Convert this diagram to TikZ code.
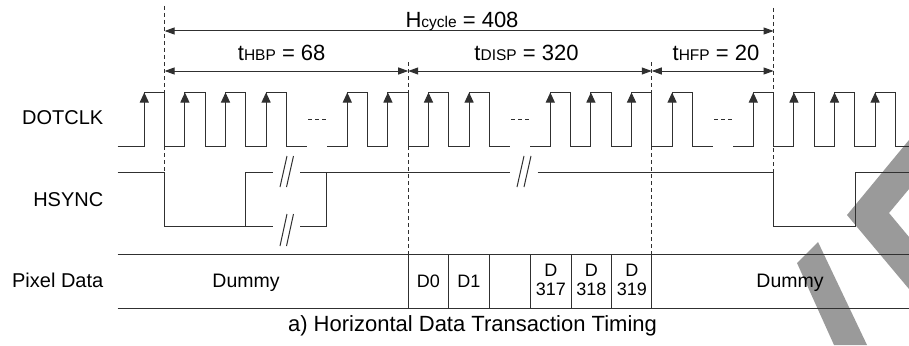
\documentclass[tikz,border=0pt]{standalone}
\usepackage{fontspec}
\setmainfont{Liberation Sans}
\usetikzlibrary{arrows.meta}
\definecolor{ln}{HTML}{303030}
\definecolor{wm}{HTML}{9A9A9A}
\begin{document}
\begin{tikzpicture}[x=1pt,y=-1pt,
  sig/.style={draw=ln,line width=1pt},
  vguide/.style={draw=ln,line width=0.9pt,dash pattern=on 4pt off 3pt},
  gapdash/.style={draw=ln,line width=1pt,dash pattern=on 4pt off 3pt},
  dimarrow/.style={draw=ln,line width=1pt,{Triangle[length=10pt,width=7pt]}-{Triangle[length=10pt,width=7pt]}},
  riseedge/.style={draw=ln,line width=1pt,-{Triangle[length=10pt,width=9pt]}},
  breakmark/.style={draw=ln,line width=1pt},
  lbl/.style={anchor=base east,inner sep=0pt,font=\fontsize{20}{24}\selectfont},
  celltxt/.style={anchor=base,inner sep=0pt,font=\fontsize{18}{21}\selectfont},
  dummytxt/.style={anchor=base,inner sep=0pt,font=\fontsize{19.5}{23}\selectfont},
  toplbl/.style={anchor=base,inner sep=0pt,font=\fontsize{22}{26}\selectfont},
]
\newcommand{\subtxt}[1]{{\fontsize{15.5}{18}\selectfont #1}}
\useasboundingbox (0,0) rectangle (909,345);
\fill[white] (0,0) rectangle (909,345);

% watermark shapes
\fill[wm] (909,140) -- (847,215) -- (909,289) -- (909,237) -- (889,213) -- (909,189) -- cycle;
\fill[wm] (797,263) -- (818,242) -- (867,345) -- (834,345) -- cycle;

% guide coordinates
\coordinate (v1) at (164.6,0);
\coordinate (v2) at (408.2,0);
\coordinate (v3) at (651.8,0);
\coordinate (v4) at (773.6,0);

% dashed guides
\draw[vguide] (v1|-0,6) -- (v1|-0,172);
\draw[vguide] (v2|-0,62) -- (v2|-0,254);
\draw[vguide] (v3|-0,62) -- (v3|-0,254);
\draw[vguide] (v4|-0,8) -- (v4|-0,172);

% dimension arrows
\draw[dimarrow] (v1|-0,31) -- (v4|-0,31);
\draw[dimarrow] (v1|-0,71) -- (v2|-0,71);
\draw[dimarrow] (v2|-0,71) -- (v3|-0,71);
\draw[dimarrow] (v3|-0,71) -- (v4|-0,71);

\node[toplbl] (hcyc) at (462,27.7) {H\subtxt{cycle} = 408};
\node[toplbl] (thbp) at (281.7,60.5) {t\subtxt{HBP} = 68};
\node[toplbl] (tdisp) at (526.5,60.5) {t\subtxt{DISP} = 320};
\node[toplbl] (thfp) at (716,60.5) {t\subtxt{HFP} = 20};

% DOTCLK
\node[lbl] (clklbl) at (103.5,124) {DOTCLK};
\draw[sig] (117.7,146) \foreach \i in {0,...,3}{ -- ({144.3+40.6*\i},146) -- ({144.3+40.6*\i},92) -- ({164.6+40.6*\i},92) -- ({164.6+40.6*\i},146)} -- (307,146);
\draw[sig] (327,146) \foreach \i in {5,...,8}{ -- ({144.3+40.6*\i},146) -- ({144.3+40.6*\i},92) -- ({164.6+40.6*\i},92) -- ({164.6+40.6*\i},146)} -- (509.7,146);
\draw[sig] (530,146) \foreach \i in {10,...,13}{ -- ({144.3+40.6*\i},146) -- ({144.3+40.6*\i},92) -- ({164.6+40.6*\i},92) -- ({164.6+40.6*\i},146)} -- (712.7,146);
\draw[sig] (733,146) \foreach \i in {15,...,18}{ -- ({144.3+40.6*\i},146) -- ({144.3+40.6*\i},92) -- ({164.6+40.6*\i},92) -- ({164.6+40.6*\i},146)} -- (909,146);
\foreach \i in {0,1,2,3,5,6,7,8,10,11,12,13,15,16,17,18}{
  \draw[riseedge] ({144.3+40.6*\i},146) -- ({144.3+40.6*\i},92.5);
}
\draw[gapdash] (308,119) -- (326,119);
\draw[gapdash] (511,119) -- (529,119);
\draw[gapdash] (714,119) -- (732,119);

% HSYNC
\node[lbl] (hslbl) at (103.5,206) {HSYNC};
\draw[sig] (117.7,172.3) -- (v1|-0,172.3) -- (v1|-0,226.7) -- (273.3,226.7);
\draw[sig] (300,226.7) -- (326.7,226.7) -- (326.7,172.3);
\draw[sig] (245.7,226.7) -- (245.7,172.3) -- (273.3,172.3);
\draw[sig] (300,172.3) -- (510,172.3);
\draw[sig] (537.7,172.3) -- (v4|-0,172.3) -- (v4|-0,226.7) -- (855,226.7) -- (855,172.3) -- (909,172.3);
% break marks
\draw[breakmark] (280,187) -- (287,156) (286.5,187) -- (293.5,156);
\draw[breakmark] (280,246) -- (287,214) (286.5,246) -- (293.5,214);
\draw[breakmark] (517,187) -- (524,156) (524,187) -- (531,156);

% Pixel Data
\node[lbl] (pdlbl) at (103.5,287.3) {Pixel Data};
\draw[sig] (117.7,254) -- (909,254);
\draw[sig] (117.7,308.3) -- (909,308.3);
\foreach \x in {408.2,448.3,489.3,530.7,571,611.7,651.8}{
  \draw[sig] (\x,254) -- (\x,308.3);
}
\node[dummytxt] (dum1) at (246,287) {Dummy};
\node[celltxt] (d0) at (428.3,287) {D0};
\node[celltxt] (d1) at (468.8,287) {D1};
\node[celltxt] (d317a) at (550.8,276.7) {D};
\node[celltxt] (d317b) at (550.8,295) {317};
\node[celltxt] (d318a) at (591.4,276.7) {D};
\node[celltxt] (d318b) at (591.4,295) {318};
\node[celltxt] (d319a) at (631.8,276.7) {D};
\node[celltxt] (d319b) at (631.8,295) {319};
\node[dummytxt] (dum2) at (790,287) {Dummy};

% caption
\node[anchor=base,inner sep=0pt,font=\fontsize{22}{26}\selectfont] (cap) at (472.5,331) {a) Horizontal Data Transaction Timing};
\end{tikzpicture}
\end{document}
